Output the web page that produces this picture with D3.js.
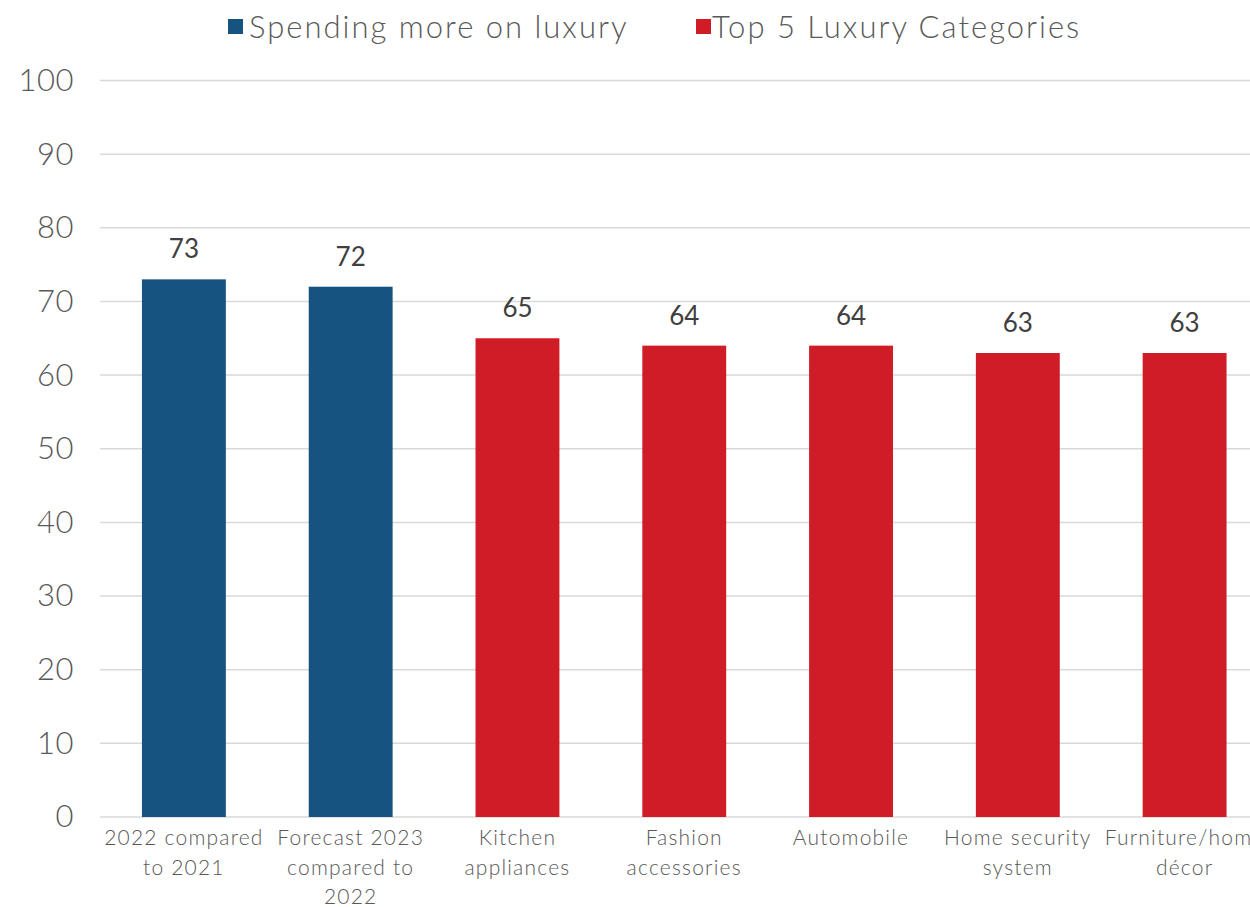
<!DOCTYPE html>
<html>
<head>
<meta charset="utf-8">
<script src="https://cdn.jsdelivr.net/npm/d3@7"></script>
<style>
  html, body { margin: 0; padding: 0; background: #fff; }
  svg { display: block; }
</style>
</head>
<body>
<svg id="chart" width="1250" height="907"></svg>
<script>
// Share of respondents (%)
const categories = [
  ["2022 compared", "to 2021"],
  ["Forecast 2023", "compared to", "2022"],
  ["Kitchen", "appliances"],
  ["Fashion", "accessories"],
  ["Automobile"],
  ["Home security", "system"],
  ["Furniture/home", "décor"]
];
const values = [73, 72, 65, 64, 64, 63, 63];
const seriesOf = [0, 0, 1, 1, 1, 1, 1];
const seriesNames = ["Spending more on luxury", "Top 5 Luxury Categories"];
const seriesColors = ["#175381", "#d01c27"];
const yTicks = [0, 10, 20, 30, 40, 50, 60, 70, 80, 90, 100];

const svg = d3.select("#chart");
const font = "Lato, 'Open Sans', sans-serif";

const x = d3.scaleBand()
  .domain(d3.range(values.length))
  .range([100.5, 1268])
  .paddingInner(0.497)
  .paddingOuter(0.2485);

const y = d3.scaleLinear().domain([0, 100]).range([817, 80.5]);

// Gridlines
svg.append("g")
  .selectAll("line")
  .data(yTicks)
  .join("line")
  .attr("x1", 100).attr("x2", 1250)
  .attr("y1", d => y(d)).attr("y2", d => y(d))
  .attr("stroke", "#d9d9d9").attr("stroke-width", 1.5);

// Y axis labels
const yAxis = svg.append("g")
  .attr("transform", "translate(74,0)")
  .call(d3.axisLeft(y).tickValues(yTicks).tickSize(0).tickPadding(0));
yAxis.select(".domain").remove();
yAxis.selectAll("text")
  .attr("font-family", font)
  .attr("font-weight", 300)
  .attr("font-size", 31)
  .attr("letter-spacing", 0.5)
  .attr("fill", "#595959");

// Bars
svg.append("g")
  .selectAll("rect")
  .data(values)
  .join("rect")
  .attr("x", (d, i) => x(i))
  .attr("width", x.bandwidth())
  .attr("y", d => y(d))
  .attr("height", d => y(0) - y(d))
  .attr("fill", (d, i) => seriesColors[seriesOf[i]]);

// Value labels
svg.append("g")
  .selectAll("text")
  .data(values)
  .join("text")
  .attr("x", (d, i) => x(i) + x.bandwidth() / 2)
  .attr("y", d => y(d) - 21)
  .attr("text-anchor", "middle")
  .attr("font-family", font)
  .attr("font-size", 26)
  .attr("fill", "#404040")
  .text(d => d);

// Category labels
const cat = svg.append("g")
  .selectAll("text")
  .data(categories)
  .join("text")
  .attr("x", (d, i) => x(i) + x.bandwidth() / 2)
  .attr("y", 845)
  .attr("text-anchor", "middle")
  .attr("font-family", font)
  .attr("font-weight", 300)
  .attr("font-size", 21)
  .attr("letter-spacing", 1.2)
  .attr("fill", "#595959");
cat.selectAll("tspan")
  .data(d => d)
  .join("tspan")
  .attr("x", function () { return d3.select(this.parentNode).attr("x"); })
  .attr("dy", (d, i) => i === 0 ? 0 : 29.5)
  .text(d => d);

// Legend
const legendPos = [{ box: 228, text: 249 }, { box: 696, text: 712 }];
const legend = svg.append("g")
  .selectAll("g")
  .data(seriesNames)
  .join("g");
legend.append("rect")
  .attr("x", (d, i) => legendPos[i].box)
  .attr("y", 19)
  .attr("width", 15).attr("height", 15)
  .attr("fill", (d, i) => seriesColors[i]);
legend.append("text")
  .attr("x", (d, i) => legendPos[i].text)
  .attr("y", 38)
  .attr("font-family", font)
  .attr("font-weight", 300)
  .attr("font-size", 31)
  .attr("letter-spacing", 2)
  .attr("fill", "#595959")
  .text(d => d);
</script>
</body>
</html>
